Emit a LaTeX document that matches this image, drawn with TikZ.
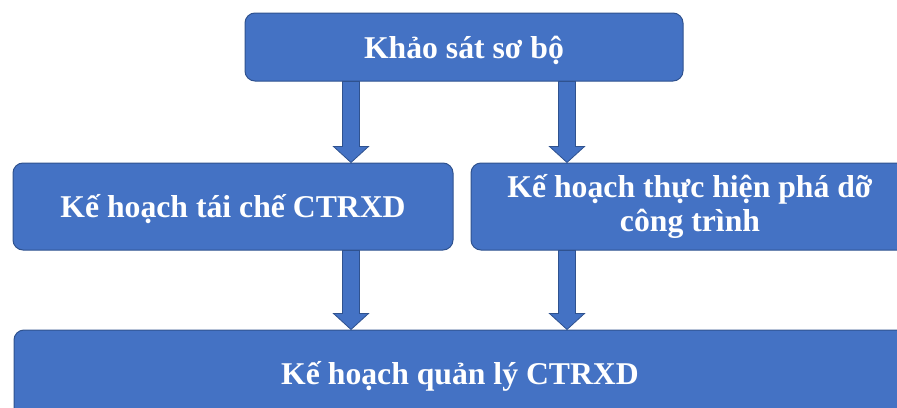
\documentclass[tikz,border=0pt]{standalone}
\usepackage{fontspec}
\setmainfont{Liberation Serif}
\usetikzlibrary{calc}
\definecolor{boxblue}{HTML}{4472C4}
\definecolor{boxline}{HTML}{2F528F}
\tikzset{
  box/.style={draw=boxline, fill=boxblue, line width=1pt, rounded corners=10pt,
    text=white, font=\bfseries\fontsize{31.7}{34}\selectfont, align=center,
    inner sep=0pt, text height=22pt, text depth=0pt},
  arrowbody/.style={draw=boxline, fill=boxblue, line width=0.8pt, line join=miter}
}
\newcommand\blockarrow[3]{%
  \path[arrowbody] let \p1=(#2.south), \p2=(#3.north) in
    (#1pt-8.5pt,\y1) -- (#1pt-8.5pt,\y2+16pt) -- (#1pt-17.5pt,\y2+16pt) --
    (#1pt,\y2) -- (#1pt+17.5pt,\y2+16pt) -- (#1pt+8.5pt,\y2+16pt) --
    (#1pt+8.5pt,\y1) -- cycle;}
\begin{document}
\begin{tikzpicture}[x=1pt,y=-1pt]
  \useasboundingbox (0,0) rectangle (897,407);
  \clip (0,0) rectangle (897,407);
  \node[box, minimum width=438pt, minimum height=68pt] (top) at (464,47) {Khảo sát sơ bộ};
  \node[box, minimum width=440pt, minimum height=87pt] (left) at (233,206.5) {Kế hoạch tái chế CTRXD};
  \node[box, minimum width=438pt, minimum height=87pt, text height=, text depth=] (right) at (690,206.5) {Kế hoạch thực hiện phá dỡ\\công trình};
  \node[box, minimum width=892pt, minimum height=87pt] (bottom) at (460,373.5) {Kế hoạch quản lý CTRXD};
  \blockarrow{351}{top}{left}
  \blockarrow{567}{top}{right}
  \blockarrow{351}{left}{bottom}
  \blockarrow{567}{right}{bottom}
\end{tikzpicture}
\end{document}
